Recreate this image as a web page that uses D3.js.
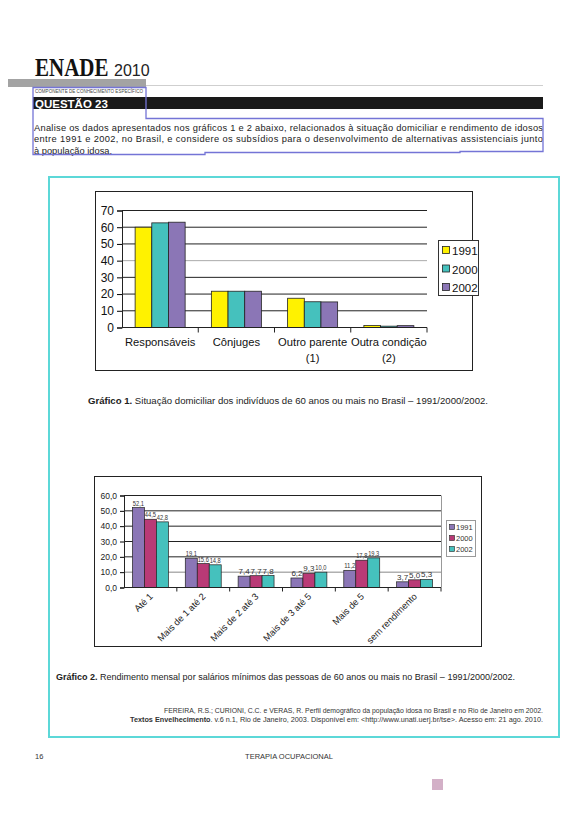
<!DOCTYPE html>
<html><head><meta charset="utf-8">
<script src="https://cdn.jsdelivr.net/npm/d3@7"></script>
<style>body{margin:0;background:#fff}svg{display:block;font-family:"Liberation Sans",Arial,sans-serif}</style>
</head><body>
<svg id="page" width="578" height="818"></svg>
<script>
// ---- data ----
const cats1 = ["Responsáveis", "Cônjuges", "Outro parente\n(1)", "Outra condição\n(2)"];
const years = ["1991", "2000", "2002"];
const s1991a = [60.0, 21.7, 17.5, 1.2];
const s2000a = [62.6, 21.7, 15.4, 0.8];
const s2002a = [63.0, 21.7, 15.3, 1.1];
const yTicks1 = [0, 10, 20, 30, 40, 50, 60, 70];

const cats2 = ["Até 1", "Mais de 1 até 2", "Mais de 2 até 3", "Mais de 3 até 5", "Mais de 5", "sem rendimento"];
const s1991b = [52.1, 19.1, 7.4, 6.2, 11.2, 3.7];
const s2000b = [44.5, 15.6, 7.7, 9.3, 17.8, 5.0];
const s2002b = [42.8, 14.8, 7.8, 10.0, 19.3, 5.3];
const yTicks2 = [0, 10, 20, 30, 40, 50, 60];

const colors1 = ["#fff200", "#45c1bd", "#8b76b6"];
const colors2 = ["#8b76b6", "#b93a76", "#45c1bd"];

const svg = d3.select("#page");

// ---- page header ----
svg.append("text").attr("transform", "translate(35,76) scale(0.84,1)").attr("font-family", "Liberation Serif, serif")
  .attr("font-weight", "bold").attr("font-size", 25).attr("fill", "#111").text("ENADE");
svg.append("text").attr("x", 114).attr("y", 76).attr("font-size", 16).attr("fill", "#222").text("2010");
svg.append("rect").attr("x", 8).attr("y", 79).attr("width", 138).attr("height", 8).attr("fill", "#a3a3a3");
svg.append("line").attr("x1", 146).attr("x2", 543).attr("y1", 85.5).attr("y2", 85.5).attr("stroke", "#cfcfcf");
svg.append("text").attr("x", 35).attr("y", 93).attr("font-size", 4.5).attr("textLength", 108).attr("fill", "#444")
  .text("COMPONENTE DE CONHECIMENTO ESPECÍFICO");
svg.append("rect").attr("x", 33).attr("y", 97).attr("width", 510).attr("height", 12).attr("fill", "#1a1a1a");
svg.append("text").attr("x", 35).attr("y", 107.5).attr("font-size", 11.5).attr("font-weight", "bold").attr("fill", "#fff").text("QUESTÃO 23");

const para = [
  "Analise os dados apresentados nos gráficos 1 e 2 abaixo, relacionados à situação domiciliar e rendimento de idosos",
  "entre 1991 e 2002, no Brasil, e considere os subsídios para o desenvolvimento de alternativas assistenciais junto",
  "à população idosa."];
para.forEach((t, i) => {
  const tx = svg.append("text").attr("x", 34).attr("y", 130.5 + i * 11.5).attr("font-size", 9.3).attr("fill", "#222").text(t);
  if (i < 2) tx.attr("textLength", 509).attr("lengthAdjust", "spacing");
});
svg.append("path").attr("d", "M33,87.5 H146 V118.5 H543 V151.5 H460 V152.5 H205 V154.5 H33 Z")
  .attr("fill", "none").attr("stroke", "#7474d6").attr("stroke-width", 1.3);

// ---- cyan frame ----
svg.append("rect").attr("x", 49).attr("y", 177).attr("width", 510).attr("height", 560)
  .attr("fill", "none").attr("stroke", "#5cd8d8").attr("stroke-width", 2);

// ---- chart 1 ----
svg.append("rect").attr("x", 95.5).attr("y", 191.5).attr("width", 377).attr("height", 179)
  .attr("fill", "#fff").attr("stroke", "#222");
const x1 = d3.scaleBand().domain(cats1).range([122, 427]).paddingInner(0.344).paddingOuter(0.172);
const x1s = d3.scaleBand().domain(years).range([0, x1.bandwidth()]);
const y1 = d3.scaleLinear().domain([0, 70]).range([327.5, 210.5]);
const g1 = svg.append("g");
yTicks1.filter(d => d > 0).forEach(d => {
  g1.append("line").attr("x1", 122).attr("x2", 427).attr("y1", y1(d)).attr("y2", y1(d))
    .attr("stroke", d === 40 ? "#aaa" : "#222").attr("stroke-width", 1);
});
const data1 = [s1991a, s2000a, s2002a];
data1.forEach((arr, si) => {
  g1.selectAll(null).data(arr).join("rect")
    .attr("x", (d, i) => x1(cats1[i]) + x1s(years[si]))
    .attr("y", d => y1(d)).attr("width", x1s.bandwidth()).attr("height", d => y1(0) - y1(d))
    .attr("fill", colors1[si]).attr("stroke", "#222").attr("stroke-width", 0.8);
});
const ax1 = g1.append("g").attr("transform", "translate(122,0)")
  .call(d3.axisLeft(y1).tickValues(yTicks1).tickSize(5).tickPadding(3));
ax1.select(".domain").attr("stroke", "#222");
ax1.selectAll("text").attr("font-size", 12).attr("fill", "#111").attr("font-family", "Liberation Sans, Arial");
g1.append("line").attr("x1", 122).attr("x2", 427).attr("y1", y1(0)).attr("y2", y1(0)).attr("stroke", "#222");
cats1.forEach((c, i) => {
  const xb = x1(c) - x1.step() * x1.paddingInner() / 2 + x1.step();
  g1.append("line").attr("x1", xb).attr("x2", xb).attr("y1", y1(0)).attr("y2", y1(0) + 5).attr("stroke", "#222");
  const lines = c.split("\n");
  lines.forEach((l, j) => {
    g1.append("text").attr("x", x1(c) + x1.bandwidth() / 2).attr("y", 346 + j * 16)
      .attr("text-anchor", "middle").attr("font-size", 11.2).attr("fill", "#111").text(l);
  });
});
const lg1 = svg.append("g");
lg1.append("rect").attr("x", 438.5).attr("y", 240.5).attr("width", 40).attr("height", 55).attr("fill", "#fff").attr("stroke", "#333");
years.forEach((yy, i) => {
  lg1.append("rect").attr("x", 442.5).attr("y", 246.5 + i * 18.5).attr("width", 7).attr("height", 7)
    .attr("fill", colors1[i]).attr("stroke", "#222").attr("stroke-width", 0.8);
  lg1.append("text").attr("x", 452).attr("y", 255 + i * 18.5).attr("font-size", 11.5).attr("fill", "#111").text(yy);
});
svg.append("text").attr("x", 88).attr("y", 404).attr("font-size", 9.2).attr("fill", "#222")
  .attr("textLength", 400).attr("lengthAdjust", "spacingAndGlyphs")
  .call(t => { t.append("tspan").attr("font-weight", "bold").text("Gráfico 1.");
               t.append("tspan").text(" Situação domiciliar dos indivíduos de 60 anos ou mais no Brasil – 1991/2000/2002."); });

// ---- chart 2 ----
svg.append("rect").attr("x", 94.5).attr("y", 476.5).attr("width", 387).attr("height", 170)
  .attr("fill", "#fff").attr("stroke", "#222");
const x2 = d3.scaleBand().domain(cats2).range([124, 441]).paddingInner(0.32).paddingOuter(0.16);
const x2s = d3.scaleBand().domain(years).range([0, x2.bandwidth()]);
const y2 = d3.scaleLinear().domain([0, 60]).range([587.5, 495.5]);
const g2 = svg.append("g");
yTicks2.filter(d => d > 0).forEach(d => {
  g2.append("line").attr("x1", 124).attr("x2", 441).attr("y1", y2(d)).attr("y2", y2(d))
    .attr("stroke", d === 10 ? "#888" : "#222");
});
g2.append("line").attr("x1", 441.5).attr("x2", 441.5).attr("y1", y2(60)).attr("y2", y2(0)).attr("stroke", "#999");
const data2 = [s1991b, s2000b, s2002b];
const fmt = d => d3.format(".1f")(d).replace(".", ",");
data2.forEach((arr, si) => {
  g2.selectAll(null).data(arr).join("rect")
    .attr("x", (d, i) => x2(cats2[i]) + x2s(years[si]))
    .attr("y", d => y2(d)).attr("width", x2s.bandwidth()).attr("height", d => y2(0) - y2(d))
    .attr("fill", colors2[si]).attr("stroke", "#222").attr("stroke-width", 0.7);
});
data2.forEach((arr, si) => {
  g2.selectAll(null).data(arr).join("text")
    .attr("x", 0).attr("y", 0).attr("text-anchor", "middle").attr("font-size", 8).attr("fill", "#333")
    .text(fmt)
    .each(function (d, i) {
      const w = this.getComputedTextLength();
      const maxW = x2s.bandwidth() - 0.8;
      const k = Math.min(1, maxW / w);
      const cx = x2(cats2[i]) + x2s(years[si]) + x2s.bandwidth() / 2;
      d3.select(this).attr("transform", `translate(${cx},${y2(d) - 2}) scale(${k},1)`);
    });
});
const ax2 = g2.append("g").attr("transform", "translate(124,0)")
  .call(d3.axisLeft(y2).tickValues(yTicks2).tickSize(4).tickPadding(3).tickFormat(fmt));
ax2.select(".domain").attr("stroke", "#222");
ax2.selectAll("text").attr("font-size", 8.5).attr("fill", "#222").attr("font-family", "Liberation Sans, Arial");
g2.append("line").attr("x1", 124).attr("x2", 441).attr("y1", y2(0)).attr("y2", y2(0)).attr("stroke", "#222");
cats2.forEach((c, i) => {
  const xb = x2(c) - x2.step() * x2.paddingInner() / 2 + x2.step();
  g2.append("line").attr("x1", xb).attr("x2", xb).attr("y1", y2(0)).attr("y2", y2(0) + 4).attr("stroke", "#222");
  const cx = x2(c) + x2.bandwidth() / 2;
  g2.append("text").attr("transform", `translate(${cx + 3},${597}) rotate(-45)`)
    .attr("text-anchor", "end").attr("font-size", 9.3).attr("fill", "#222").text(c);
});
const lg2 = svg.append("g");
lg2.append("rect").attr("x", 446.5).attr("y", 520.5).attr("width", 29).attr("height", 36).attr("fill", "#fff").attr("stroke", "#999");
years.forEach((yy, i) => {
  lg2.append("rect").attr("x", 449.5).attr("y", 524.5 + i * 11).attr("width", 5).attr("height", 5)
    .attr("fill", colors2[i]).attr("stroke", "#222").attr("stroke-width", 0.6);
  lg2.append("text").attr("x", 456).attr("y", 530 + i * 11).attr("font-size", 7.5).attr("fill", "#333").text(yy);
});
svg.append("text").attr("x", 56).attr("y", 680).attr("font-size", 9.2).attr("fill", "#222")
  .attr("textLength", 459).attr("lengthAdjust", "spacingAndGlyphs")
  .call(t => { t.append("tspan").attr("font-weight", "bold").text("Gráfico 2.");
               t.append("tspan").text(" Rendimento mensal por salários mínimos das pessoas de 60 anos ou mais no Brasil – 1991/2000/2002."); });
svg.append("text").attr("x", 164).attr("y", 713).attr("font-size", 6.3).attr("fill", "#333")
  .attr("textLength", 379).attr("lengthAdjust", "spacingAndGlyphs")
  .text("FEREIRA, R.S.; CURIONI, C.C. e VERAS, R. Perfil demográfico da população idosa no Brasil e no Rio de Janeiro em 2002.");
svg.append("text").attr("x", 130).attr("y", 722).attr("font-size", 6.3).attr("fill", "#333")
  .attr("textLength", 413).attr("lengthAdjust", "spacingAndGlyphs")
  .call(t => { t.append("tspan").attr("font-weight", "bold").text("Textos Envelhecimento");
               t.append("tspan").text(". v.6 n.1, Rio de Janeiro, 2003. Disponível em: <http://www.unati.uerj.br/tse>. Acesso em: 21 ago. 2010."); });

// ---- footer ----
svg.append("text").attr("x", 35).attr("y", 759).attr("font-size", 7.5).attr("fill", "#333").text("16");
svg.append("text").attr("x", 289).attr("y", 759).attr("text-anchor", "middle").attr("font-size", 7.5).attr("fill", "#333").text("TERAPIA OCUPACIONAL");
svg.append("rect").attr("x", 432).attr("y", 779).attr("width", 11).attr("height", 11).attr("fill", "#d3b0c7");
</script>
</body></html>
